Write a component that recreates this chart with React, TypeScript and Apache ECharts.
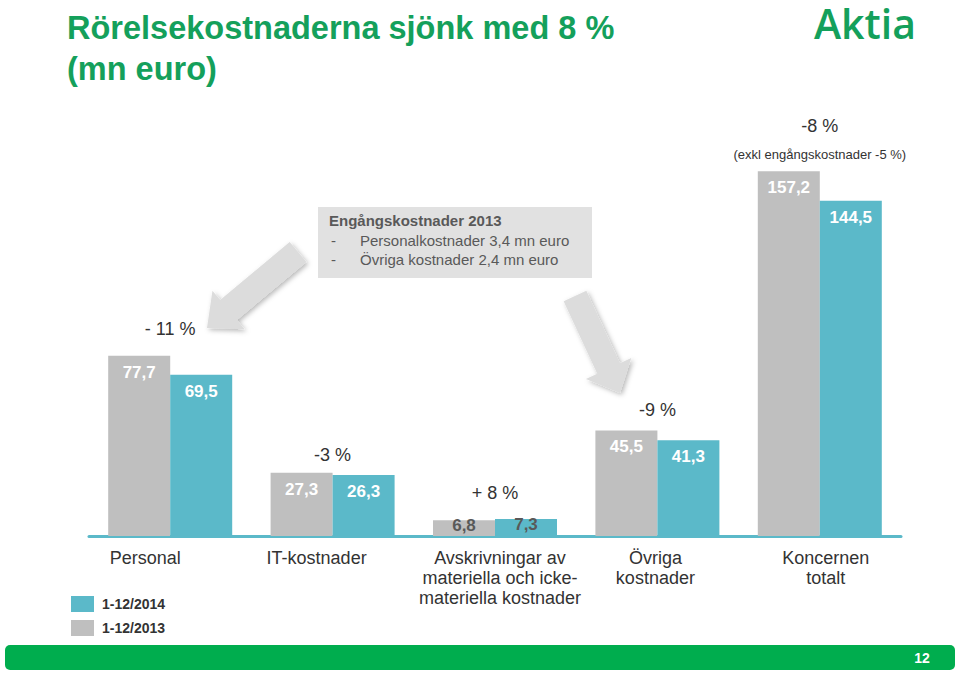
import React, { useEffect, useRef } from "react";
import * as echarts from "echarts";

const categories = [
  "Personal",
  "IT-kostnader",
  "Avskrivningar av\nmateriella och icke-\nmateriella kostnader",
  "Övriga\nkostnader",
  "Koncernen\ntotalt",
];
const values2013 = [77.7, 27.3, 6.8, 45.5, 157.2];
const values2014 = [69.5, 26.3, 7.3, 41.3, 144.5];
const seriesNames = ["1-12/2013", "1-12/2014"];
const pctLabels = ["- 11 %", "-3 %", "+ 8 %", "-9 %", "-8 %"];
const pctNotes = ["", "", "", "", "(exkl engångskostnader -5 %)"];
const titleLines = ["Rörelsekostnaderna sjönk med 8 %", "(mn euro)"];
const boxTitle = "Engångskostnader 2013";
const boxItems = ["Personalkostnader 3,4 mn euro", "Övriga kostnader 2,4 mn euro"];
const pageNumber = "12";

const GREEN = "#14a05b";
const TEAL = "#5bb9c9";
const GRAY = "#bfbfbf";
const FONT = "'Liberation Sans', Arial, Helvetica, sans-serif";

// style: extra lift (px) of each percentage label above the taller bar
const pctLift = [27, 18, 26, 20, 45];
// style: horizontal shift (px) of the category labels
const labelShift = [-25, -16, 5, -2, 6];

function arrowPoints(sx: number, sy: number, tx: number, ty: number, sw: number, hw: number, hl: number) {
  const dx = tx - sx;
  const dy = ty - sy;
  const L = Math.sqrt(dx * dx + dy * dy);
  const ux = dx / L;
  const uy = dy / L;
  const px = -uy;
  const py = ux;
  const local: [number, number][] = [
    [0, -sw / 2],
    [L - hl, -sw / 2],
    [L - hl, -hw / 2],
    [L, 0],
    [L - hl, hw / 2],
    [L - hl, sw / 2],
    [0, sw / 2],
  ];
  return local.map(([a, b]) => [sx + ux * a + px * b, sy + uy * a + py * b]);
}

function makeBarData(vals: number[]) {
  return vals.map((v) =>
    v < 10
      ? {
          value: v,
          label: { position: "top", distance: -14, color: "#595959" },
        }
      : { value: v }
  );
}

export default function App() {
  const ref = useRef<HTMLDivElement>(null);
  useEffect(() => {
    if (!ref.current) return;
    const chart = echarts.init(ref.current, undefined, { renderer: "svg" });
    const arrowStyle = {
      fill: "#dcdcdc",
      shadowBlur: 5,
      shadowOffsetX: 2,
      shadowOffsetY: 2,
      shadowColor: "rgba(0,0,0,0.28)",
    };
    const barLabel = {
      show: true,
      position: "insideTop",
      distance: 8,
      color: "#ffffff",
      fontSize: 17,
      fontWeight: "bold",
      fontFamily: FONT,
      formatter: (p: any) => String(p.value).replace(".", ","),
    };
    const option: any = {
      animation: false,
      backgroundColor: "#ffffff",
      title: {
        text: titleLines.join("\n"),
        left: 62,
        top: 2,
        textStyle: {
          color: GREEN,
          fontSize: 32.5,
          fontWeight: "bold",
          fontFamily: FONT,
          lineHeight: 41,
        },
      },
      legend: {
        data: [seriesNames[1], seriesNames[0]],
        orient: "vertical",
        left: 66,
        top: 591,
        itemWidth: 23,
        itemHeight: 16,
        itemGap: 8,
        icon: "rect",
        selectedMode: false,
        textStyle: {
          color: "#333333",
          fontSize: 14,
          fontWeight: "bold",
          fontFamily: FONT,
          padding: [0, 0, 0, 3],
        },
      },
      grid: { left: 89, right: 59, top: 72, bottom: 138 },
      xAxis: {
        type: "category",
        data: categories.map((c, i) => ({
          value: c,
          textStyle: {
            padding:
              labelShift[i] < 0
                ? [0, -2 * labelShift[i], 0, 0]
                : [0, 0, 0, 2 * labelShift[i]],
          },
        })),
        axisLine: { lineStyle: { color: TEAL, width: 3 } },
        axisTick: { show: false },
        axisLabel: {
          color: "#333333",
          fontSize: 18,
          fontFamily: FONT,
          lineHeight: 20,
          margin: 12,
          interval: 0,
          verticalAlign: "top",
        },
      },
      yAxis: { type: "value", min: 0, max: 200, show: false, splitLine: { show: false } },
      series: [
        {
          name: seriesNames[0],
          type: "bar",
          data: makeBarData(values2013),
          barWidth: 62,
          barGap: "0%",
          itemStyle: { color: GRAY },
          label: barLabel,
        },
        {
          name: seriesNames[1],
          type: "bar",
          data: makeBarData(values2014),
          barWidth: 62,
          barGap: "0%",
          itemStyle: { color: TEAL },
          label: barLabel,
        },
        {
          name: "pct",
          type: "custom",
          data: categories.map((_, i) => [i, Math.max(values2013[i], values2014[i])]),
          encode: { x: 0, y: 1 },
          silent: true,
          z: 5,
          renderItem: (params: any, api: any) => {
            const i = params.dataIndex;
            const p = api.coord([api.value(0), api.value(1)]);
            const children: any[] = [
              {
                type: "text",
                x: p[0],
                y: p[1] - pctLift[i],
                style: {
                  text: pctLabels[i],
                  fill: "#333333",
                  fontSize: 18,
                  fontFamily: FONT,
                  align: "center",
                  verticalAlign: "middle",
                },
              },
            ];
            if (pctNotes[i]) {
              children.push({
                type: "text",
                x: p[0],
                y: p[1] - 17,
                style: {
                  text: pctNotes[i],
                  fill: "#333333",
                  fontSize: 13,
                  fontFamily: FONT,
                  align: "center",
                  verticalAlign: "middle",
                },
              });
            }
            return { type: "group", children };
          },
        },
      ],
      graphic: [
        {
          type: "text",
          x: 814,
          y: 23,
          style: {
            text: "Aktia",
            fill: GREEN,
            fontSize: 41,
            lineHeight: 36,
            fontWeight: 600,
            fontFamily: "'Open Sans', 'DejaVu Sans', sans-serif",
            verticalAlign: "middle",
          },
        },
        {
          type: "rect",
          shape: { x: 318, y: 207, width: 274, height: 71 },
          style: { fill: "#e1e1e1" },
        },
        {
          type: "text",
          x: 329,
          y: 220,
          style: {
            text: boxTitle,
            fill: "#595959",
            fontSize: 15,
            fontWeight: "bold",
            fontFamily: FONT,
            verticalAlign: "middle",
          },
        },
        ...boxItems.flatMap((t, k) => [
          {
            type: "text",
            x: 331,
            y: 240 + k * 19,
            style: { text: "-", fill: "#595959", fontSize: 15, fontFamily: FONT, verticalAlign: "middle" },
          },
          {
            type: "text",
            x: 360,
            y: 240 + k * 19,
            style: { text: t, fill: "#595959", fontSize: 15, fontFamily: FONT, verticalAlign: "middle" },
          },
        ]),
        {
          type: "polygon",
          shape: { points: arrowPoints(298, 252, 207, 328, 26, 50, 28) },
          style: arrowStyle,
        },
        {
          type: "polygon",
          shape: { points: arrowPoints(575, 296, 620, 393, 25, 50, 27) },
          style: arrowStyle,
        },
        {
          type: "rect",
          shape: { x: 5, y: 645, width: 950, height: 25, r: 5 },
          style: { fill: "#00ad4e" },
        },
        {
          type: "text",
          x: 922,
          y: 658,
          style: {
            text: pageNumber,
            fill: "#ffffff",
            fontSize: 14,
            fontWeight: "bold",
            fontFamily: FONT,
            align: "center",
            verticalAlign: "middle",
          },
        },
      ],
    };
    chart.setOption(option);
    return () => chart.dispose();
  }, []);
  return (
    <div
      ref={ref}
      style={{ position: "fixed", left: 0, top: 0, width: 960, height: 674, background: "#fff" }}
    />
  );
}
